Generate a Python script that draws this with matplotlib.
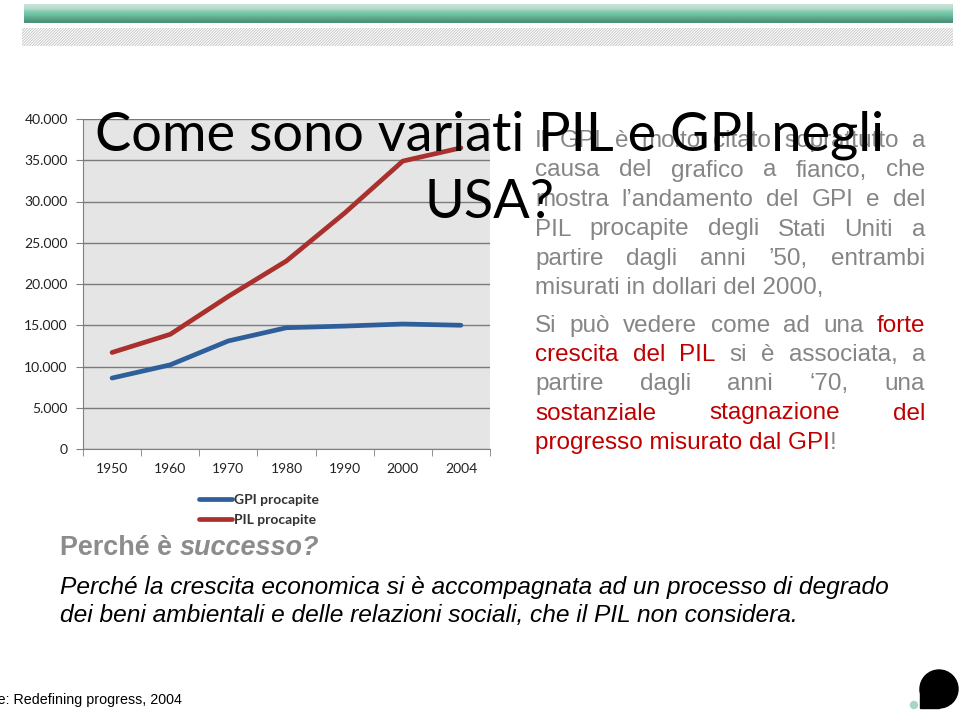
import matplotlib
matplotlib.use("Agg")
import numpy as np
from matplotlib import pyplot as plt
from matplotlib.patches import Rectangle, Circle
from matplotlib.colors import to_rgb

# data
years = ["1950", "1960", "1970", "1980", "1990", "2000", "2004"]
gpi_procapite = [8600, 10200, 13100, 14700, 14900, 15150, 15000]
pil_procapite = [11700, 13900, 18500, 22800, 28600, 34900, 36500]
y_ticks = [0, 5000, 10000, 15000, 20000, 25000, 30000, 35000, 40000]
y_tick_labels = ["0", "5.000", "10.000", "15.000", "20.000", "25.000",
                 "30.000", "35.000", "40.000"]

W, H = 960, 710
BODY = "Liberation Sans"
HEAD = "Lato"
GRAY = "#858585"
RED = "#c00000"
BLUE = "#2f5f9b"
DRED = "#a9302d"

fig = plt.figure(figsize=(W / 100, H / 100), dpi=100)
renderer = fig.canvas.get_renderer()


def fx(x):
    return x / W


def fy(y):
    return 1 - y / H


def measure(s, **kw):
    t = fig.text(0, 0, s, **kw)
    w = t.get_window_extent(renderer).width
    t.remove()
    return w


def fit_size(s, target, **kw):
    return 20 * target / measure(s, fontsize=20, **kw)


# background decorations in pixel coordinates
deco = fig.add_axes([0, 0, 1, 1], zorder=-1)
deco.axis("off")

stops = ["#c4e2d6", "#b2dacb", "#7fcaae", "#69c09f", "#5aa98b", "#4f9179"]
grad = np.array([to_rgb(c) for c in stops])[:, None, :]
deco.imshow(grad, extent=(24, 953, 23, 4), aspect="auto", interpolation="bilinear")
plt.rcParams["hatch.linewidth"] = 0.6
deco.add_patch(Rectangle((22, 28), 931, 18, facecolor="white",
                         edgecolor="#c2c2c2", hatch="/" * 12, lw=0))
deco.add_patch(Circle((939, 689), 19, color="black"))
deco.add_patch(Rectangle((920, 689), 19, 19, color="black"))
deco.add_patch(Circle((914, 705), 3.5, color="#a6d6c6"))
deco.set_xlim(0, W)
deco.set_ylim(H, 0)

# chart
ax = fig.add_axes([fx(83), fy(449), (490 - 83) / W, (449 - 119) / H])
ax.set_facecolor("#e5e5e5")
x = np.arange(len(years))
ax.plot(x, gpi_procapite, color=BLUE, lw=3.4, solid_capstyle="round",
        label="GPI procapite", zorder=3)
ax.plot(x, pil_procapite, color=DRED, lw=3.4, solid_capstyle="round",
        label="PIL procapite", zorder=3)
ax.set_xlim(-0.5, len(years) - 0.5)
ax.set_ylim(0, 40000)
ax.set_yticks(y_ticks)
ax.set_yticklabels(y_tick_labels, family=HEAD, fontsize=10, color="#222222")
ax.set_xticks(x)
ax.set_xticklabels(years, family=HEAD, fontsize=10, color="#222222")
ax.set_xticks(np.arange(-0.5, len(years)), minor=True)
ax.tick_params(axis="x", which="major", length=0, pad=10)
ax.tick_params(axis="x", which="minor", length=5, color="#808080", direction="out")
ax.tick_params(axis="y", length=5, color="#808080", pad=6)
ax.yaxis.grid(True, color="#7a7a7a", lw=1)
ax.set_axisbelow(True)
for side in ["top", "right"]:
    ax.spines[side].set_visible(False)
for side in ["left", "bottom"]:
    ax.spines[side].set_color("#808080")

ax.legend(loc="upper left", bbox_to_anchor=(fx(199), fy(494)),
          bbox_transform=fig.transFigure, frameon=False, borderpad=0,
          borderaxespad=0, handlelength=2.4, handletextpad=0.1,
          labelspacing=0.55, prop={"family": HEAD, "weight": "bold", "size": 10},
          labelcolor="#333333")

# title
tsize = fit_size("Come sono variati PIL e GPI negli", 790, family=HEAD)
fig.text(fx(490), fy(150), "Come sono variati PIL e GPI negli", family=HEAD,
         fontsize=tsize, ha="center", va="baseline", color="black", zorder=6)
fig.text(fx(490), fy(218), "USA?", family=HEAD, fontsize=tsize,
         ha="center", va="baseline", color="black", zorder=6)

# right paragraph, justified
psize = fit_size("misurati in dollari del 2000,", 288, family=BODY)


def put_justified(segments, x0, x1, y):
    words = []
    for s, c in segments:
        for w in s.split(" "):
            if w:
                words.append((w, c))
    widths = [measure(w, fontsize=psize, family=BODY) for w, _ in words]
    gap = (x1 - x0 - sum(widths)) / (len(words) - 1)
    xx = x0
    for (w, c), wd in zip(words, widths):
        fig.text(fx(xx), fy(y), w, color=c, fontsize=psize, family=BODY,
                 va="baseline", ha="left", zorder=2)
        xx += wd + gap


def put_run(segments, x0, y, **kw):
    xx = x0
    for s, c, extra in segments:
        fig.text(fx(xx), fy(y), s, color=c, va="baseline", ha="left", **extra, **kw)
        xx += measure(s, **extra, **kw)
    return xx


L, R = 535, 925
put_justified([("Il GPI è molto citato soprattutto a", GRAY)], L, R, 147)
put_justified([("causa del grafico a fianco, che", GRAY)], L, R, 176.5)
put_justified([("mostra l’andamento del GPI e del", GRAY)], L, R, 206)
put_justified([("PIL procapite degli Stati Uniti a", GRAY)], L, R, 235.5)
put_justified([("partire dagli anni ’50, entrambi", GRAY)], L, R, 265)
fig.text(fx(L), fy(294), "misurati in dollari del 2000,", color=GRAY,
         fontsize=psize, family=BODY, va="baseline", zorder=2)
put_justified([("Si può vedere come ad una", GRAY), ("forte", RED)], L, R, 332)
put_justified([("crescita del PIL", RED), ("si è associata, a", GRAY)], L, R, 361)
put_justified([("partire dagli anni ‘70, una", GRAY)], L, R, 390)
put_justified([("sostanziale stagnazione del", RED)], L, R, 419.5)
put_run([("progresso misurato dal GPI", RED, {}), ("!", GRAY, {})], L, 449,
        fontsize=psize, family=BODY)

# lower block
qsize = fit_size("Perché è successo?", 260, family=BODY, weight="bold")
put_run([("Perché è ", "#8c8c8c", {"style": "normal"}),
         ("successo?", "#8c8c8c", {"style": "italic"})], 60, 555,
        fontsize=qsize, family=BODY, weight="bold")

isize = fit_size("Perché la crescita economica si è accompagnata ad un processo di degrado",
                 826, family=BODY, style="italic")
fig.text(fx(60), fy(594), "Perché la crescita economica si è accompagnata ad un processo di degrado",
         fontsize=isize, family=BODY, style="italic", color="black", va="baseline")
fig.text(fx(60), fy(622), "dei beni ambientali e delle relazioni sociali, che il PIL non considera.",
         fontsize=isize, family=BODY, style="italic", color="black", va="baseline")

ssize = fit_size("e: Redefining progress, 2004", 182, family=BODY)
fig.text(fx(182), fy(704), "Fonte: Redefining progress, 2004", fontsize=ssize,
         family=BODY, color="black", ha="right", va="baseline")

fig.savefig("out.png", dpi=100)
